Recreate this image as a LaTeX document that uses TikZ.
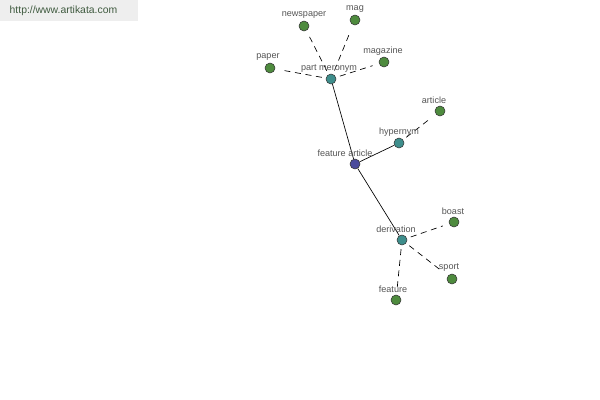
\documentclass[tikz,border=0pt]{standalone}
\usepackage{fontspec}
\setmainfont{Liberation Sans}
\usepackage{xcolor}
\usetikzlibrary{positioning}
\definecolor{leafgreen}{HTML}{4E8B3E}
\definecolor{hubteal}{HTML}{3E8E8C}
\definecolor{rootblue}{HTML}{4A4A9C}
\definecolor{labelgray}{HTML}{555555}
\definecolor{bannergray}{HTML}{EEEEEE}
\definecolor{bannertext}{HTML}{3F5A3F}

\begin{document}
\begin{tikzpicture}[
  x=0.75pt, y=-0.75pt,
  every node/.style={font=\fontsize{6.8}{7}\selectfont},
  dot/.style={circle, draw=black!80, line width=0.4pt, minimum size=7.5pt, inner sep=0pt},
  leaf/.style={dot, fill=leafgreen},
  hub/.style={dot, fill=hubteal},
  root/.style={dot, fill=rootblue},
  lbl/.style={text=labelgray, inner sep=0.5pt},
  tie/.style={black, line width=0.5pt},
  weak/.style={black, line width=0.5pt, dash pattern=on 4.5pt off 3.5pt,
               shorten <=3pt, shorten >=5pt}
]
  \useasboundingbox[fill=white] (0,0) rectangle (600,400);
  % banner
  \fill[bannergray] (0,0) rectangle (138,21);
  \node[text=bannertext, font=\fontsize{7.8}{9}\selectfont, anchor=west] (url) at (5,11) {http://www.artikata.com};

  % nodes
  \node[root] (fa) at (355,164) {};
  \node[hub]  (pm) at (331,79) {};
  \node[hub]  (hy) at (399,143) {};
  \node[hub]  (de) at (402,240) {};
  \node[leaf] (newspaper) at (304,26) {};
  \node[leaf] (mag) at (355,20) {};
  \node[leaf] (magazine) at (384,62) {};
  \node[leaf] (paper) at (270,68) {};
  \node[leaf] (article) at (440,111) {};
  \node[leaf] (boast) at (454,222) {};
  \node[leaf] (sport) at (452,279) {};
  \node[leaf] (feature) at (396,300) {};

  % edges
  \draw[tie] (fa) -- (pm);
  \draw[tie] (fa) -- (hy);
  \draw[tie] (fa) -- (de);
  \draw[weak] (pm) -- (newspaper);
  \draw[weak] (pm) -- (mag);
  \draw[weak] (pm) -- (magazine);
  \draw[weak] (pm) -- (paper);
  \draw[weak] (hy) -- (article);
  \draw[weak] (de) -- (boast);
  \draw[weak] (de) -- (sport);
  \draw[weak] (de) -- (feature);

  % labels
  \node[lbl] at (345,153) {feature article};
  \node[lbl] at (329,69) {part meronym};
  \node[lbl] at (399,132) {hypernym};
  \node[lbl] at (396,229) {derivation};
  \node[lbl] at (304,15) {newspaper};
  \node[lbl] at (355,9) {mag};
  \node[lbl] at (383,51) {magazine};
  \node[lbl] at (268,57) {paper};
  \node[lbl] at (434,100) {article};
  \node[lbl] at (453,211) {boast};
  \node[lbl] at (449,268) {sport};
  \node[lbl] at (393,289) {feature};
\end{tikzpicture}
\end{document}
